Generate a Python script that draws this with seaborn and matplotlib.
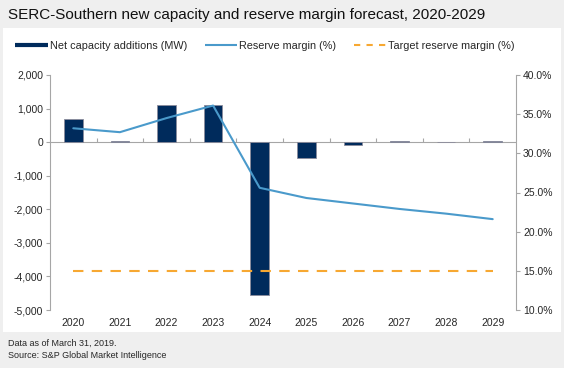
import matplotlib.pyplot as plt
import numpy as np
import seaborn as sns
from matplotlib.lines import Line2D
from matplotlib.patches import Rectangle

years = ["2020", "2021", "2022", "2023", "2024", "2025", "2026", "2027", "2028", "2029"]
capacity_mw = [700, 30, 1100, 1100, -4550, -470, -80, 20, 0, 20]
reserve_margin = [33.2, 32.7, 34.5, 36.1, 25.6, 24.3, 23.6, 22.9, 22.3, 21.6]
target_margin = [15.0] * len(years)

NAVY = "#002b5c"
BLUE = "#4a9acb"
ORANGE = "#f7a832"
GRID = "#a6a6a6"
BG = "#efefef"

sns.set_style("white")
plt.rcParams["font.family"] = ["Liberation Sans", "DejaVu Sans"]

fig = plt.figure(figsize=(5.64, 3.68), dpi=100, facecolor=BG)
fig.patches.append(Rectangle((3 / 564, 1 - 332 / 368), 558 / 564, 304 / 368,
                             transform=fig.transFigure, facecolor="white",
                             edgecolor="none", zorder=-10))

ax = fig.add_axes([50 / 564, 1 - 310 / 368, 466 / 564, 235 / 368])
ax.set_facecolor("none")
x = np.arange(len(years))

sns.barplot(x=years, y=capacity_mw, color=NAVY, width=0.4, saturation=1,
            edgecolor="#8c8c9c", linewidth=0.6, ax=ax, zorder=2)
ax.set_ylim(-5000, 2000)
ax.set_xlim(-0.5, len(years) - 0.5)
ax.set_yticks(range(-5000, 2001, 1000))
ax.set_yticklabels([f"{v:,}" for v in range(-5000, 2001, 1000)])
ax.axhline(0, color=GRID, lw=0.8, zorder=1)
ax.tick_params(axis="y", length=3, color=GRID, labelsize=7.5, pad=2)
ax.tick_params(axis="x", length=0, labelsize=7.5, pad=6)
for s in ["top", "bottom"]:
    ax.spines[s].set_visible(False)
ax.spines["left"].set_color(GRID)
ax.spines["right"].set_visible(False)

# small ticks on the zero line between categories
zero_ax = ax.secondary_xaxis(5000 / 7000)
zero_ax.set_xticks(np.arange(0.5, len(years) - 1, 1.0))
zero_ax.set_xticklabels([])
zero_ax.tick_params(direction="out", length=3, color=GRID)
zero_ax.spines["bottom"].set_visible(False)
zero_ax.spines["top"].set_visible(False)

ax2 = ax.twinx()
sns.lineplot(x=x, y=reserve_margin, color=BLUE, lw=1.5, ax=ax2, zorder=3)
sns.lineplot(x=x, y=target_margin, color=ORANGE, lw=1.5, ax=ax2,
             dashes=False, linestyle=(0, (5, 4)), zorder=3)
ax2.set_ylim(10, 40)
ax2.set_yticks(range(10, 41, 5))
ax2.set_yticklabels([f"{v:.1f}%" for v in range(10, 41, 5)])
ax2.tick_params(axis="y", length=3, color=GRID, labelsize=7.5, pad=2)
for s in ["top", "bottom", "left"]:
    ax2.spines[s].set_visible(False)
ax2.spines["right"].set_color(GRID)
ax.set_xlabel("")

handles = [
    Line2D([], [], color=NAVY, lw=3, solid_capstyle="butt"),
    Line2D([], [], color=BLUE, lw=1.5, solid_capstyle="butt"),
    Line2D([], [], color=ORANGE, lw=1.5, linestyle=(0, (3, 3))),
]
labels = ["Net capacity additions (MW)", "Reserve margin (%)", "Target reserve margin (%)"]
fig.legend(handles, labels, loc="center", bbox_to_anchor=(265 / 564, 1 - 46 / 368),
           ncol=3, frameon=False, fontsize=7.8, handlelength=3.0,
           handletextpad=0.2, columnspacing=1.6)

fig.text(8 / 564, 1 - 15 / 368,
         "SERC-Southern new capacity and reserve margin forecast, 2020-2029",
         fontsize=11, ha="left", va="center", color="#111111")
fig.text(8 / 564, 1 - 343 / 368, "Data as of March 31, 2019.", fontsize=6.5,
         ha="left", va="center")
fig.text(8 / 564, 1 - 355 / 368, "Source: S&P Global Market Intelligence",
         fontsize=6.5, ha="left", va="center")

fig.savefig("out.png", dpi=100, facecolor=BG)
